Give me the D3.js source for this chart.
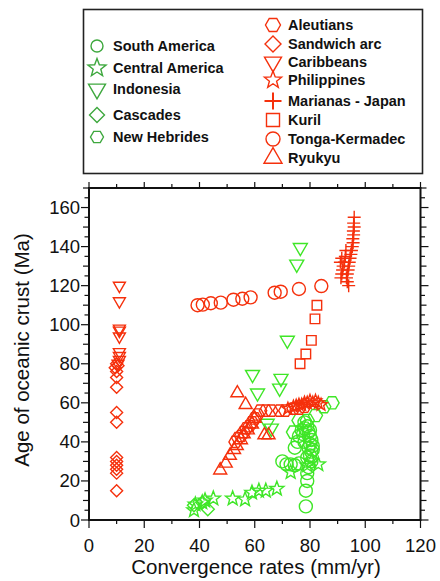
<!DOCTYPE html>
<html>
<head>
<meta charset="utf-8">
<script src="https://cdn.jsdelivr.net/npm/d3@7/dist/d3.min.js"></script>
<style>
  html, body { margin: 0; padding: 0; background: #fff; }
  svg { display: block; }
  text { font-family: "Liberation Sans", Arial, Helvetica, sans-serif; }
</style>
</head>
<body>
<svg id="chart" width="440" height="581"></svg>
<script>
// ---- data: [convergence rate (mm/yr), age of oceanic crust (Ma)] ----
const southAmerica = [[70,30],[71.5,28.5],[73,28.5],[74.5,28],[76,29],[74.5,37],[75.5,40],[76,43],
  [77,46],[78,50],[79,48],[79.5,45],[80,43],[80.5,41],[80,39],[79.5,37],[80.5,35],[80,33],[79,32],
  [80.5,30],[79.5,27],[79,24],[79,20],[78.5,15],[78.5,7],[81,38],[81,36],[78,40],[77.5,44],[80,46]];
const centralAmerica = [[38,5],[38.5,8],[41,9],[42,10],[45,11],[52,11],[56.5,10.5],[59,14],[61.5,15],
  [64,15],[68,16],[73,24.5],[79,28],[80.5,30],[83,28.5]];
const indonesia = [[76.5,139.5],[75.2,131],[71.8,92],[59.2,74.5],[61,65],[69.5,72.5],[69,67.5],
  [64.5,49.5],[66,47]];
const cascades = [[38,7.5],[43,5.5],[41,9]];
const newHebrides = [[88,60],[85,58],[82,53.5],[79,51],[76,51],[74,45],[78,47]];

const aleutians = [[53,40],[54,42],[55,43],[56,45],[57,47],[58,48],[59,50],[60,52],[61,54],[62,56],
  [64,56],[66,56],[69,56],[71,56],[74,57],[76,57],[78,58]];
const sandwichArc = [[10,80],[10.5,79],[9.5,78],[10,76],[10,73],[10,68],[10,55],[10,50],[10,32],
  [10,30],[10,28],[10,26],[10,24],[10,15]];
const caribbeans = [[11,120],[11,112],[11,98],[11,97],[11,94],[11,86],[11,84],[11,82],[10.5,80]];
const philippines = [[72,57],[74,58],[75,58.5],[76,59],[77,59],[78,60],[79,60],[80,61],[81,60],
  [82,61],[83,60],[84,59]];
const mariansJapan = [[96,155],[95.8,152],[96,150],[95.7,148],[95.8,146],[95.5,144],[95.6,142],
  [95.3,140],[95,138],[94.8,136],[94.5,134],[94.2,132],[94,130],[93.8,128],[93.5,126],[93.2,124],
  [93,138],[92.8,135],[92.5,132],[92,130],[91.8,128],[91.5,126],[91.2,124],[91,132],[91.5,134],
  [93.5,122],[94,120]];
const kuril = [[82.5,110],[81.8,103],[80.5,92],[78.5,85],[76.4,80]];
const tongaKermadec = [[39.3,110],[41.2,110.3],[44.1,111],[47.7,111.3],[52.3,112.8],[55.5,113.3],
  [58.5,114],[67.2,116.4],[69.4,116.9],[76,118.3],[84.1,119.8]];
const ryukyu = [[47.5,25.5],[49.5,29],[51,33],[52.5,36],[53.5,38],[55,41],[56,44],[57.5,46],[59,49],
  [60,52],[53.7,65],[56.7,59],[63.5,43.5],[65,43.5]];

const xTicks = [0, 20, 40, 60, 80, 100, 120];
const yTicks = [0, 20, 40, 60, 80, 100, 120, 140, 160];

// ---- colours ----
const RED = "#f5300c";
const GREEN = "#3fe627";
const GREEN_KEY = "#3ea83e";

// ---- glyph paths, s = overall width in px ----
const shapes = {
  circle: s => { const p = d3.path(); p.arc(0, 0, s / 2, 0, 2 * Math.PI); p.closePath(); return p.toString(); },
  triUp: s => { const h = s * 0.866; return `M${-s/2},${h/3}L${s/2},${h/3}L0,${-2*h/3}Z`; },
  triDown: s => { const h = s * 0.866; return `M${-s/2},${-h/3}L${s/2},${-h/3}L0,${2*h/3}Z`; },
  diamond: s => { const r = s / 2; return `M0,${-r}L${r},0L0,${r}L${-r},0Z`; },
  square: s => { const r = s / 2; return `M${-r},${-r}H${r}V${r}H${-r}Z`; },
  hexagon: s => {
    const r = s / 2;
    const pts = d3.range(6).map(i => [r * Math.cos(i * Math.PI / 3), r * Math.sin(i * Math.PI / 3)]);
    return "M" + pts.map(p => p.join(",")).join("L") + "Z";
  },
  star: s => {
    const R = s / 2, r = R * 0.42;
    const pts = d3.range(10).map(i => {
      const a = -Math.PI / 2 + i * Math.PI / 5, rr = i % 2 ? r : R;
      return [rr * Math.cos(a), rr * Math.sin(a)];
    });
    return "M" + pts.map(p => p.join(",")).join("L") + "Z";
  },
  plus: s => { const r = s / 2; return `M${-r},0H${r}M0,${-r}V${r}`; }
};

const series = [
  { name: "South America",   data: southAmerica,   shape: "circle",  color: GREEN, key: GREEN_KEY, size: 13, keySize: 12 },
  { name: "Central America", data: centralAmerica, shape: "star",    color: GREEN, key: GREEN_KEY, size: 15, keySize: 19 },
  { name: "Indonesia",       data: indonesia,      shape: "triDown", color: GREEN, key: GREEN_KEY, size: 14, keySize: 17 },
  { name: "Cascades",        data: cascades,       shape: "diamond", color: GREEN, key: GREEN_KEY, size: 13, keySize: 15 },
  { name: "New Hebrides",    data: newHebrides,    shape: "hexagon", color: GREEN, key: GREEN_KEY, size: 14, keySize: 13 },
  { name: "Aleutians",       data: aleutians,      shape: "hexagon", color: RED, key: RED, size: 13, keySize: 15 },
  { name: "Sandwich arc",    data: sandwichArc,    shape: "diamond", color: RED, key: RED, size: 12, keySize: 16 },
  { name: "Caribbeans",      data: caribbeans,     shape: "triDown", color: RED, key: RED, size: 12, keySize: 17 },
  { name: "Philippines",     data: philippines,    shape: "star",    color: RED, key: RED, size: 13, keySize: 18 },
  { name: "Marianas - Japan",data: mariansJapan,   shape: "plus",    color: RED, key: RED, size: 13, keySize: 17 },
  { name: "Kuril",           data: kuril,          shape: "square",  color: RED, key: RED, size: 9.5, keySize: 13 },
  { name: "Tonga-Kermadec",  data: tongaKermadec,  shape: "circle",  color: RED, key: RED, size: 13, keySize: 14 },
  { name: "Ryukyu",          data: ryukyu,         shape: "triUp",   color: RED, key: RED, size: 13, keySize: 18 }
];

const svg = d3.select("#chart");

// ---- plot area ----
const plotL = 89, plotR = 420.5, plotT = 188, plotB = 520;
const x = d3.scaleLinear().domain([0, 120]).range([plotL, plotR]);
const y = d3.scaleLinear().domain([0, 170]).range([plotB, plotT]);

// tick marks on all four sides (outward)
const ax = svg.append("g").attr("stroke", "#111").attr("stroke-width", 1.2);
d3.range(0, 121, 10).forEach(v => {
  const major = v % 20 === 0;
  ax.append("line").attr("x1", x(v)).attr("x2", x(v)).attr("y1", plotB).attr("y2", plotB + (major ? 8 : 4));
  ax.append("line").attr("x1", x(v)).attr("x2", x(v)).attr("y1", plotT).attr("y2", plotT - (major ? 6 : 4));
});
d3.range(0, 171, 5).forEach(v => {
  const major = v % 20 === 0, mid = v % 10 === 0;
  const len = major ? 8 : (mid ? 6 : 4.5);
  ax.append("line").attr("x1", plotL).attr("x2", plotL - len).attr("y1", y(v)).attr("y2", y(v));
  ax.append("line").attr("x1", plotR).attr("x2", plotR + len).attr("y1", y(v)).attr("y2", y(v));
});

// tick labels
svg.append("g").selectAll("text").data(xTicks).join("text")
  .attr("x", d => x(d)).attr("y", 552)
  .attr("text-anchor", "middle").attr("font-size", 18.5).attr("fill", "#111")
  .text(d => d);
svg.append("g").selectAll("text").data(yTicks).join("text")
  .attr("x", 80).attr("y", d => y(d) + 6.5)
  .attr("text-anchor", "end").attr("font-size", 18.5).attr("fill", "#111")
  .text(d => d);

// axis titles
svg.append("text").attr("x", 256).attr("y", 574).attr("text-anchor", "middle")
  .attr("font-size", 20.5).attr("fill", "#111").text("Convergence rates (mm/yr)");
svg.append("text").attr("transform", `translate(29,350) rotate(-90)`).attr("text-anchor", "middle")
  .attr("font-size", 20.5).attr("fill", "#111").text("Age of oceanic crust (Ma)");

// markers
const plot = svg.append("g");
series.forEach(s => {
  plot.append("g").selectAll("path").data(s.data).join("path")
    .attr("d", shapes[s.shape](s.size))
    .attr("transform", d => `translate(${x(d[0])},${y(d[1])})`)
    .attr("fill", "none").attr("stroke", s.color).attr("stroke-width", 1.4);
});

// frame
svg.append("rect").attr("x", plotL).attr("y", plotT).attr("width", plotR - plotL).attr("height", plotB - plotT)
  .attr("fill", "none").attr("stroke", "#111").attr("stroke-width", 2);

// ---- legend ----
svg.append("rect").attr("x", 83.5).attr("y", 9.5).attr("width", 339).attr("height", 164)
  .attr("fill", "#fff").attr("stroke", "#222").attr("stroke-width", 1.6);

const keyLeftY = [46, 68, 89, 115, 137];
const keyRightY = [25, 44, 62, 80, 101, 120, 139, 158];
const keyRows = series.map((s, i) => i < 5
  ? { s, sx: 97, tx: 113, cy: keyLeftY[i] }
  : { s, sx: 273, tx: 288, cy: keyRightY[i - 5] });

const key = svg.append("g");
keyRows.forEach(r => {
  key.append("path").attr("d", shapes[r.s.shape](r.s.keySize))
    .attr("transform", `translate(${r.sx},${r.cy})`)
    .attr("fill", "none").attr("stroke", r.s.key).attr("stroke-width", r.s.shape === "plus" ? 2 : 1.4);
  key.append("text").attr("x", r.tx).attr("y", r.cy + 5)
    .attr("font-size", 14.5).attr("font-weight", "bold").attr("fill", "#111").text(r.s.name);
});
</script>
</body>
</html>
